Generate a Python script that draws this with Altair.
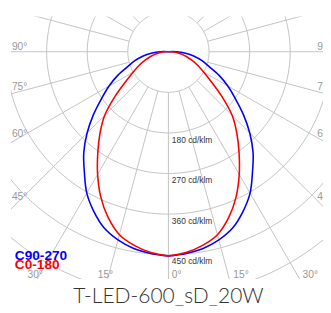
import altair as alt
import pandas as pd
import numpy as np

# ---- data (cd/klm) ----
gamma = [0, 5, 10, 15, 20, 25, 30, 35, 40, 45, 50, 55, 60, 65, 70, 75, 80, 85, 90, 95]
c90_270 = [453, 449, 443, 432, 416, 391, 362, 325, 292, 255, 217, 181, 152, 124, 96, 77, 58, 38, 18, 0]
c0_180 = [453, 447, 436, 420, 391, 355, 314, 273, 236, 200, 155, 116, 90, 72, 55, 41, 29, 18, 8, 0]

ring_values = [90, 180, 270, 360, 450, 540, 630, 720, 810]
ring_labels = ["180 cd/klm", "270 cd/klm", "360 cd/klm", "450 cd/klm"]
ring_label_values = [180, 270, 360, 450]
spoke_angles = [0, 15, 30, 45, 60, 75, 90, 105, 120, 135, 150, 165, 180]

side_labels = ["90°", "75°", "60°", "45°"]
side_label_angles = [90, 75, 60, 45]
side_label_lift = [2, 4, 6, 9.5]
bottom_labels = ["30°", "15°", "0°", "15°", "30°"]
bottom_label_px = [28, 100, 176, 239, 310]

title_text = "T-LED-600_sD_20W"

# ---- geometry: pixels per cd, centre of the diagram ----
K = 0.4625
CX, CY = 172.5, 49.0
PX0, PX1, PY0, PY1 = 11.0, 331.0, 13.0, 282.0
XD = [(PX0 - CX) / K, (PX1 - CX) / K]
YD = [-(PY1 - CY) / K, (CY - PY0) / K]
W, H = PX1 - PX0, PY1 - PY0

xs = alt.Scale(domain=XD, nice=False, zero=False)
ys = alt.Scale(domain=YD, nice=False, zero=False)

def px_to_x(p):
    return (p - CX) / K

def py_to_y(p):
    return (CY - p) / K

# curves (mirrored halves)
rows = []
for name, vals in [("C90-270", c90_270), ("C0-180", c0_180)]:
    for side in (-1, 1):
        for g, v in zip(gamma, vals):
            rows.append({"series": name, "side": side, "g": g, "I": v, "ord": side * g})
curves = pd.DataFrame(rows)

# rings
ring_rows = []
for r in ring_values:
    for t in range(0, 361, 2):
        ring_rows.append({"r": r, "t": t})
rings = pd.DataFrame(ring_rows)

# spokes
spoke_rows = []
for a in spoke_angles:
    for s in ((1,) if a in (0, 180) else (-1, 1)):
        spoke_rows.append({"a": a, "s": s, "r0": 90, "r1": 1400})
spokes = pd.DataFrame(spoke_rows)

# edge labels
lab_rows = []
for t, a, lift in zip(side_labels, side_label_angles, side_label_lift):
    yline = CY + (CX - PX0) / np.tan(np.radians(a)) if a != 90 else CY
    lab_rows.append({"t": t, "x": px_to_x(12), "y": py_to_y(yline - lift)})
    lab_rows.append({"t": t, "x": px_to_x(325), "y": py_to_y(yline - lift)})
edge_labels = pd.DataFrame(lab_rows)
bottom_df = pd.DataFrame({"t": bottom_labels, "x": [px_to_x(p) for p in bottom_label_px],
                          "y": [py_to_y(273)] * len(bottom_labels)})

ring_lab = pd.DataFrame({"t": ring_labels, "v": ring_label_values})

gray = "#c2c2c2"

base_x = alt.X("x:Q", scale=xs, axis=None)
base_y = alt.Y("y:Q", scale=ys, axis=None)

ring_layer = alt.Chart(rings).transform_calculate(
    x="datum.r*sin(datum.t*PI/180)", y="datum.r*cos(datum.t*PI/180)"
).mark_line(clip=True, color=gray, strokeWidth=1).encode(
    x=base_x, y=base_y, detail="r:N", order="t:Q"
)

spoke_layer = alt.Chart(spokes).transform_calculate(
    x="datum.s*datum.r0*sin(datum.a*PI/180)",
    y="-datum.r0*cos(datum.a*PI/180)",
    x2="datum.s*datum.r1*sin(datum.a*PI/180)",
    y2="-datum.r1*cos(datum.a*PI/180)",
).mark_rule(clip=True, color=gray, strokeWidth=1).encode(
    x=base_x, y=base_y, x2="x2:Q", y2="y2:Q"
)

ring_text = alt.Chart(ring_lab).transform_calculate(
    x=str(px_to_x(176)), y="-datum.v - %f" % (3.0 / K)
).mark_text(align="left", baseline="top", fontSize=8.6, font="Liberation Sans", color="#333333").encode(
    x=base_x, y=base_y, text="t:N"
)

edge_text = alt.Chart(edge_labels).mark_text(
    align="left", baseline="alphabetic", fontSize=10.5, font="Liberation Sans", color="#999999", clip=True
).encode(x=base_x, y=base_y, text="t:N")

bottom_text = alt.Chart(bottom_df).mark_text(
    align="left", baseline="top", fontSize=10.5, font="Liberation Sans", color="#999999", clip=True
).encode(x=base_x, y=base_y, text="t:N")

curve_layer = alt.Chart(curves).transform_calculate(
    x="datum.side*datum.I*sin(datum.g*PI/180)",
    y="-datum.I*cos(datum.g*PI/180)",
).mark_line(strokeWidth=1.6, interpolate="catmull-rom").encode(
    x=base_x, y=base_y, order="ord:Q",
    color=alt.Color("series:N", legend=None,
                    scale=alt.Scale(domain=["C90-270", "C0-180"], range=["#0000ff", "#ff0000"])),
)

legend_df = pd.DataFrame({"t": ["C90-270", "C0-180"], "c": ["#0000ff", "#ff0000"],
                          "x": [px_to_x(15), px_to_x(15)], "y": [py_to_y(263), py_to_y(272)]})
legend_layer = alt.Chart(legend_df).mark_text(
    align="left", baseline="alphabetic", fontSize=14, fontWeight="bold", font="Liberation Sans"
).encode(x=base_x, y=base_y, text="t:N", color=alt.Color("c:N", scale=None))

title_df = pd.DataFrame({"t": [title_text], "x": [px_to_x(172.5)], "y": [py_to_y(307)]})
title_layer = alt.Chart(title_df).mark_text(
    align="center", baseline="alphabetic", fontSize=21.5, font="Lato", fontWeight=300, color="#333333"
).encode(x=base_x, y=base_y, text="t:N")

chart = alt.layer(
    ring_layer, spoke_layer, ring_text, edge_text, bottom_text, curve_layer, legend_layer, title_layer
).properties(
    width=W, height=H,
    autosize=alt.AutoSizeParams(type="none"),
    padding={"left": 3, "top": 5, "right": 0, "bottom": 28},
).configure_view(stroke=None)

chart.save("out.html", embed_options={"renderer": "svg", "actions": False})
